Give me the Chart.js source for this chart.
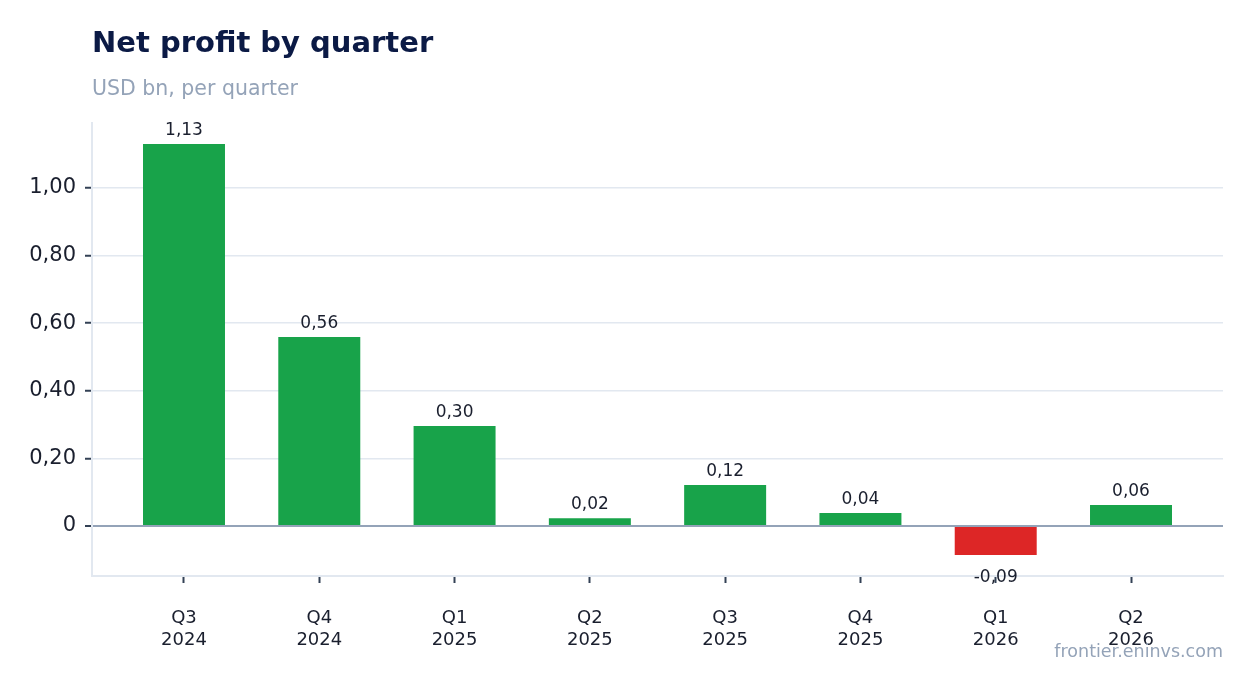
<!DOCTYPE html>
<html>
<head>
<meta charset="utf-8">
<script src="https://cdn.jsdelivr.net/npm/chart.js@4"></script>
<style>
  body { margin: 0; background: #fff; font-family: "DejaVu Sans", sans-serif; }
  #wrap { position: relative; width: 1254px; height: 693px; }
  #title { position: absolute; left: 92px; top: 25px; font-size: 29px; font-weight: bold; color: #0b1a45; }
  #subtitle { position: absolute; left: 92px; top: 76px; font-size: 20.5px; color: #94a3b8; }
  #source { position: absolute; right: 31px; top: 641px; font-size: 17.5px; color: #94a3b8; }
  canvas { position: absolute; left: 0; top: 0; }
</style>
</head>
<body>
<div id="wrap">
  <canvas id="chart" width="1254" height="693"></canvas>
  <div id="title">Net profit by quarter</div>
  <div id="subtitle">USD bn, per quarter</div>
  <div id="source">frontier.eninvs.com</div>
</div>
<script>
const quarters = [["Q3", "2024"], ["Q4", "2024"], ["Q1", "2025"], ["Q2", "2025"],
                  ["Q3", "2025"], ["Q4", "2025"], ["Q1", "2026"], ["Q2", "2026"]];
const profit = [1.13, 0.559, 0.296, 0.023, 0.121, 0.038, -0.086, 0.062];
const yTicks = [0, 0.2, 0.4, 0.6, 0.8, 1.0];

const GREEN = "#18a34a";
const RED = "#dd2626";

function fmt(v) {
  return v.toFixed(2).replace(".", ",");
}

// values over / under each bar
const barLabels = {
  id: "barLabels",
  afterDatasetsDraw(chart) {
    const ctx = chart.ctx;
    const meta = chart.getDatasetMeta(0);
    ctx.save();
    ctx.font = "17px 'DejaVu Sans'";
    ctx.fillStyle = "#1a1f2e";
    ctx.textAlign = "center";
    meta.data.forEach((bar, i) => {
      const v = profit[i];
      if (v >= 0) {
        ctx.textBaseline = "bottom";
        ctx.fillText(fmt(v), bar.x, bar.y - 5);
      } else {
        ctx.textBaseline = "top";
        ctx.fillText(fmt(v), bar.x, bar.y + 14);
      }
    });
    ctx.restore();
  }
};

new Chart(document.getElementById("chart"), {
  type: "bar",
  data: {
    datasets: [{
      data: profit.map((v, i) => ({ x: i, y: v })),
      backgroundColor: profit.map(v => v < 0 ? RED : GREEN),
      barPercentage: 0.606,
      categoryPercentage: 1
    }]
  },
  options: {
    responsive: false,
    animation: false,
    layout: { padding: { left: 0, top: 123, right: 31, bottom: 37 } },
    plugins: {
      legend: { display: false },
      tooltip: { enabled: false }
    },
    scales: {
      x: {
        type: "linear",
        offset: false,
        min: -0.68,
        max: quarters.length - 1 + 0.68,
        afterFit: s => { s.height = 80; },
        afterBuildTicks: s => { s.ticks = quarters.map((q, i) => ({ value: i })); },
        grid: {
          offset: false,
          drawOnChartArea: false,
          tickColor: "#334155",
          tickWidth: 2,
          tickLength: 7
        },
        border: { color: "#e2e8f0", width: 2 },
        ticks: {
          color: "#1a1f2e",
          font: { family: "DejaVu Sans", size: 18 },
          padding: 25,
          maxRotation: 0,
          autoSkip: false,
          callback: v => quarters[v]
        }
      },
      y: {
        min: -0.148,
        max: 1.192,
        afterFit: s => { s.width = 92; },
        afterBuildTicks: s => { s.ticks = yTicks.map(v => ({ value: v })); },
        grid: {
          color: c => c.tick && c.tick.value === 0 ? "#94a3b8" : "#e2e8f0",
          lineWidth: c => c.tick && c.tick.value === 0 ? 2 : 1.5,
          tickColor: "#334155",
          tickWidth: 2,
          tickLength: 7
        },
        border: { color: "#e2e8f0", width: 2 },
        ticks: {
          color: "#1a1f2e",
          font: { family: "DejaVu Sans", size: 21 },
          padding: 9,
          callback: v => v === 0 ? "0" : fmt(v)
        }
      }
    }
  },
  plugins: [barLabels]
});
</script>
</body>
</html>
